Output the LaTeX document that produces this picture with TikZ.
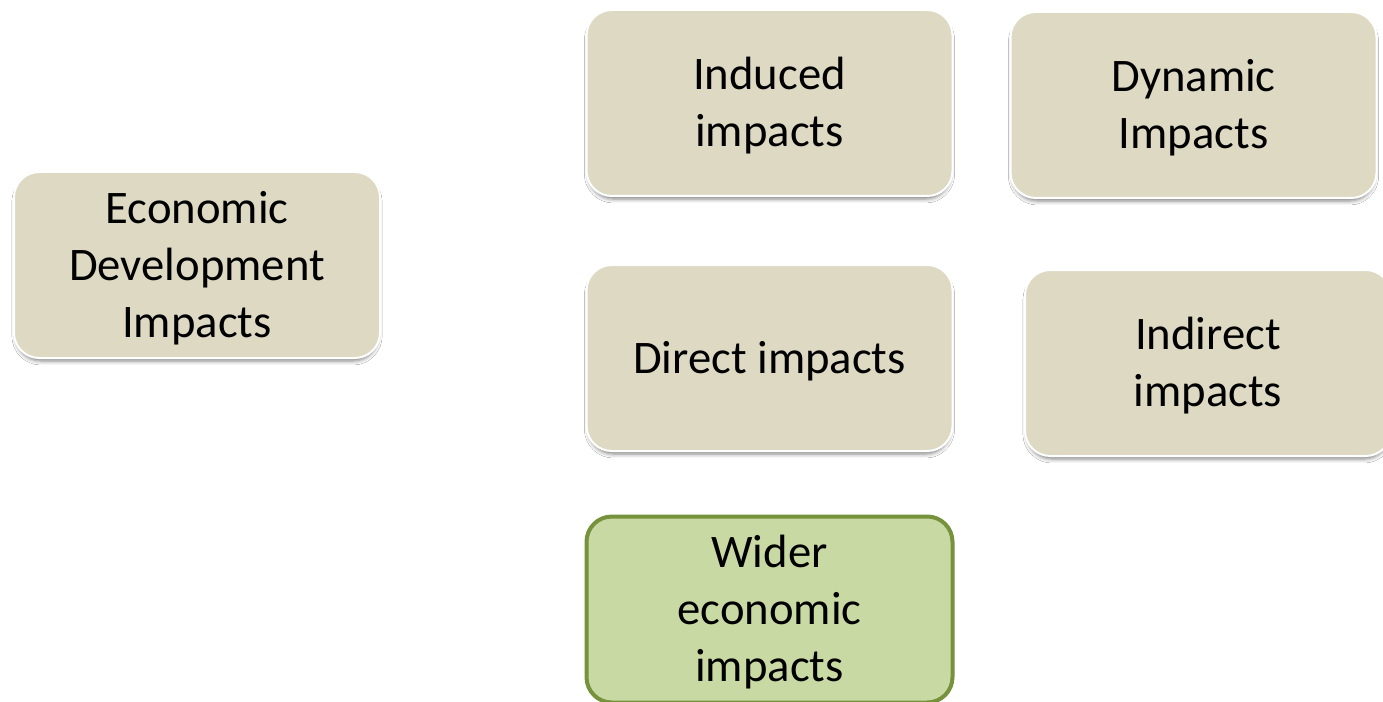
\documentclass[tikz,border=0pt]{standalone}
\usepackage{fontspec}
\setmainfont{Carlito}
\usetikzlibrary{shadows.blur}
\definecolor{tanfill}{HTML}{DDD9C3}
\definecolor{greenfill}{HTML}{C9D9A4}
\definecolor{greenline}{HTML}{76923C}
% centred lines, nudged slightly below the optical centre of the box
\newcommand{\boxlines}[1]{\raisebox{-3pt}[\height][\depth]{\begin{tabular}{@{}c@{}}#1\end{tabular}}}
\tikzset{
  impact/.style={rectangle, rounded corners=19pt,
    minimum width=274.5pt, minimum height=139.5pt, inner sep=0pt,
    font=\fontsize{35}{42.75}\selectfont},
  tanbox/.style={impact, fill=tanfill, draw=white, line width=1.5pt,
    blur shadow={shadow xshift=0pt, shadow yshift=-3pt, shadow scale=0.99,
      shadow blur radius=3pt, shadow opacity=50}},
  greenbox/.style={impact, fill=greenfill, draw=greenline, line width=3pt}
}
\begin{document}
\begin{tikzpicture}[x=0.75pt, y=-0.75pt]
  \useasboundingbox (0,0) rectangle (1383,702);
  \fill[white] (0,0) rectangle (1383,702);
  \node[tanbox] (econ) at (197,265) {\boxlines{Economic\\Development\\Impacts}};
  \node[tanbox] (induced) at (769.5,103) {\boxlines{Induced\\impacts}};
  \node[tanbox] (dynamic) at (1193.5,105) {\boxlines{Dynamic\\Impacts}};
  \node[tanbox] (direct) at (769.5,358) {\boxlines{Direct impacts}};
  \node[tanbox] (indirect) at (1208,363) {\boxlines{Indirect\\impacts}};
  \node[greenbox] (wider) at (769.5,609.5) {\boxlines{Wider\\economic\\impacts}};
\end{tikzpicture}
\end{document}
